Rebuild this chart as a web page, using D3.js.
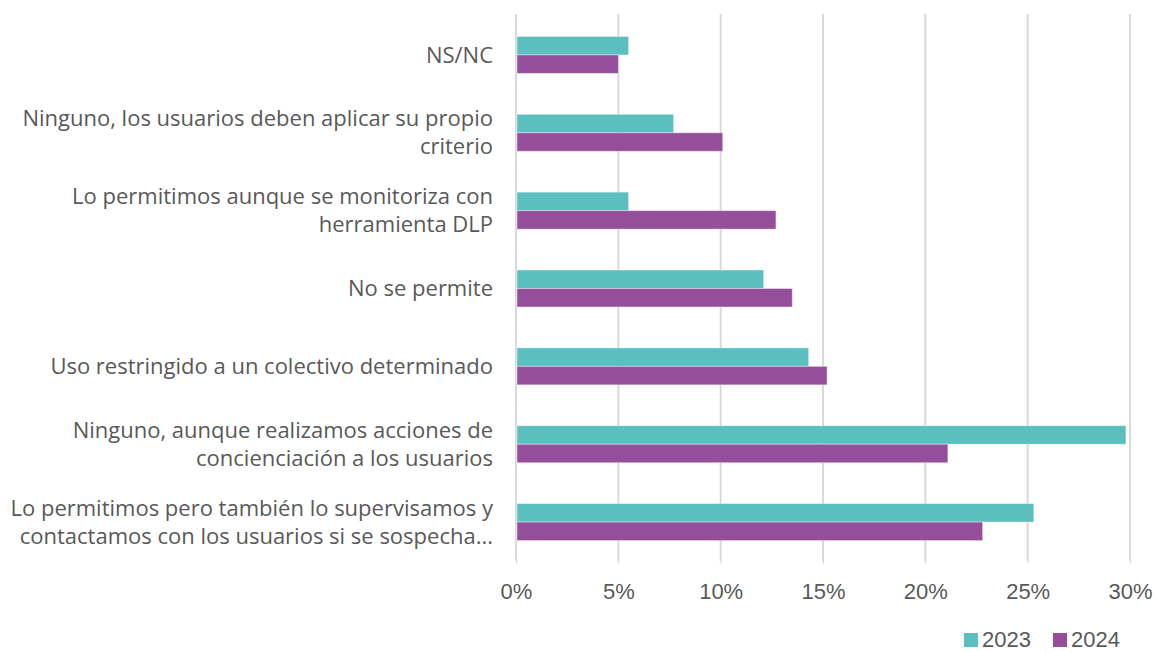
<!DOCTYPE html>
<html>
<head>
<meta charset="utf-8">
<script src="https://cdn.jsdelivr.net/npm/d3@7"></script>
<style>
  body { margin: 0; background: #fff; }
  svg { display: block; }
  .cat-label { font-family: "Open Sans", "Noto Sans", sans-serif; font-size: 22px; fill: #595959; }
  .tick text { font-family: "Liberation Sans", Arial, sans-serif; font-size: 22px; fill: #595959; }
  .legend text { font-family: "Liberation Sans", Arial, sans-serif; font-size: 22px; fill: #595959; }
</style>
</head>
<body>
<div id="chart"></div>
<script>
// categories top to bottom, each split into display lines
const categories = [
  ["NS/NC"],
  ["Ninguno, los usuarios deben aplicar su propio", "criterio"],
  ["Lo permitimos aunque se monitoriza con", "herramienta DLP"],
  ["No se permite"],
  ["Uso restringido a un colectivo determinado"],
  ["Ninguno, aunque realizamos acciones de", "concienciación a los usuarios"],
  ["Lo permitimos pero también lo supervisamos y", "contactamos con los usuarios si se sospecha..."]
];
const series = ["2023", "2024"];
const values2023 = [5.5, 7.7, 5.5, 12.1, 14.3, 29.8, 25.3];
const values2024 = [5.0, 10.1, 12.7, 13.5, 15.2, 21.1, 22.8];
const xTicks = [0, 5, 10, 15, 20, 25, 30];
const colors = ["#5bbfbf", "#954f9a"];

const W = 1156, H = 652;
const plot = { left: 516, right: 1130, top: 16, bottom: 561 };

const svg = d3.select("#chart").append("svg")
  .attr("width", W).attr("height", H);

const x = d3.scaleLinear().domain([0, 30]).range([plot.left, plot.right]);
const y = d3.scaleBand()
  .domain(d3.range(categories.length))
  .range([plot.top, plot.bottom])
  .paddingInner(0.525)
  .paddingOuter(0.2625);
const ySub = d3.scaleBand().domain(series).range([0, y.bandwidth()]);

// gridlines
svg.append("g").selectAll("line")
  .data(xTicks)
  .join("line")
  .attr("x1", d => x(d)).attr("x2", d => x(d))
  .attr("y1", 14).attr("y2", plot.bottom)
  .attr("stroke", "#d9d9d9")
  .attr("stroke-width", 2);

// x axis
const xAxis = svg.append("g")
  .attr("transform", `translate(0,${plot.bottom})`)
  .call(d3.axisBottom(x).tickValues(xTicks).tickFormat(d => d + "%").tickSize(3).tickPadding(19));
xAxis.select(".domain").remove();
xAxis.selectAll(".tick line").attr("stroke", "#d9d9d9");

// bars
const rows = categories.map((c, i) => ({ i, vals: [values2023[i], values2024[i]] }));
const groups = svg.append("g").selectAll("g")
  .data(rows)
  .join("g")
  .attr("transform", d => `translate(0,${y(d.i)})`);

groups.selectAll("rect")
  .data(d => d.vals.map((v, k) => ({ v, k })))
  .join("rect")
  .attr("x", x(0) + 1)
  .attr("y", d => ySub(series[d.k]))
  .attr("width", d => x(d.v) - x(0) - 1)
  .attr("height", ySub.bandwidth())
  .attr("fill", d => colors[d.k])
  .attr("stroke", "#ffffff")
  .attr("stroke-opacity", 0.4)
  .attr("stroke-width", 1);

// category labels
const lineH = 28;
svg.append("g").selectAll("text")
  .data(categories)
  .join("text")
  .attr("class", "cat-label")
  .attr("text-anchor", "end")
  .attr("x", 493)
  .attr("y", (d, i) => y(i) + y.bandwidth() / 2 - (d.length - 1) * lineH / 2)
  .each(function (d) {
    d3.select(this).selectAll("tspan")
      .data(d)
      .join("tspan")
      .attr("x", 493)
      .attr("dy", (t, j) => j === 0 ? "0.35em" : lineH)
      .text(t => t);
  });

// legend
const legend = svg.append("g").attr("class", "legend")
  .attr("transform", "translate(964,633)");
const lg = legend.selectAll("g")
  .data(series)
  .join("g")
  .attr("transform", (d, i) => `translate(${i * 89},0)`);
lg.append("rect")
  .attr("width", 14).attr("height", 14)
  .attr("fill", (d, i) => colors[i]);
lg.append("text")
  .attr("x", 18).attr("y", 14)
  .text(d => d);
</script>
</body>
</html>
